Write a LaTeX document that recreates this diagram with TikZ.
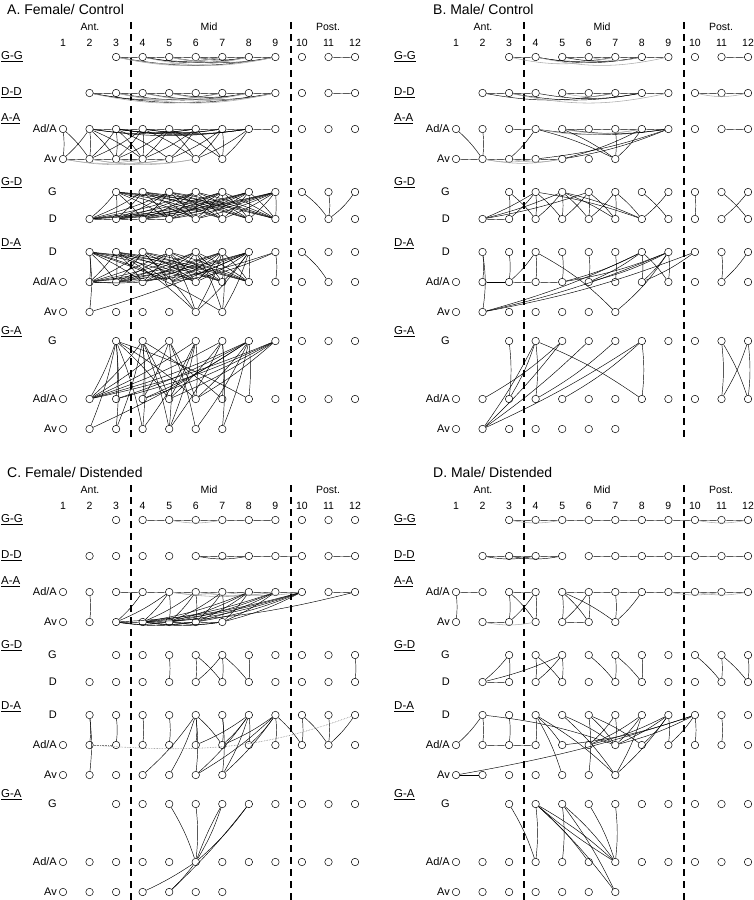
\documentclass[tikz,border=0pt]{standalone}
\usepackage{fontspec}
\setmainfont{Liberation Sans}
\newcommand{\ada}{Ad/A}
\tikzset{
  knoten/.style={circle, draw, fill=white, inner sep=0pt, minimum size=7.5pt, line width=0.5pt},
  kante/.style={line width=0.45pt},
  grau/.style={line width=0.55pt, gray!65},
  punkt/.style={line width=0.6pt, gray, densely dotted},
  trenn/.style={line width=1.3pt, dash pattern=on 7pt off 5pt},
  kopf/.style={font=\fontsize{10.5}{12}\selectfont, inner sep=0pt},
  gruppe/.style={font=\fontsize{11.5}{13}\selectfont, inner sep=0pt},
  zeile/.style={font=\fontsize{11}{12}\selectfont, inner sep=0pt},
  titel/.style={font=\fontsize{14}{16}\selectfont, inner sep=0pt}
}
% Tafel: #1 Name, #2 x-Versatz, #3 y-Versatz, #4 Titel-x, #5 Titel
\newcommand{\tafel}[5]{%
\begin{scope}[shift={(#2,-#3)}]
  \node[titel, anchor=west] (#1titel) at (#4,-9) {#5};
  \node[kopf] (#1ant) at (90,-27) {Ant.};
  \node[kopf] (#1mid) at (209,-27) {Mid};
  \node[kopf] (#1post) at (328,-27) {Post.};
  %Segmentnummern
  \foreach \i in {1,...,12}
    \node[kopf] (#1n\i) at ({63+(\i-1)*26.55},-43) {\i};
  %Kreise
  \foreach \rw/\yy/\sa/\se in {gg/57/3/12, dd/93/2/12, aa/129/1/12, av/159/1/7,
      gdg/192/3/12, gdd/219/2/12, dad/252/2/12, daa/282/1/12, dav/312/1/7,
      gag/341/3/12, gaa/399/1/12, gav/429/1/7}
    \foreach \i in {\sa,...,\se}
      \node[knoten] (#1\rw\i) at ({63+(\i-1)*26.55},-\yy) {};
  %Beschriftung links
  \foreach \t/\yy in {G-G/57, D-D/93, A-A/119, G-D/183, D-A/244, G-A/332}
    \node[gruppe, anchor=west] (#1l\yy) at (1,-\yy) {\underline{\t}};
  \foreach \t/\yy in {\ada/129, Av/159, G/192, D/219, D/252, \ada/282, Av/312, G/341, \ada/399, Av/429}
    \node[zeile, anchor=east] (#1z\yy) at (57,-\yy) {\t};
  %Trennlinien
  \draw[trenn] (131,-22) -- (131,-440);
  \draw[trenn] (291,-22) -- (291,-440);
\end{scope}}

\begin{document}
\begin{tikzpicture}[x=1pt, y=1pt]
  \useasboundingbox (0,0) rectangle (753,-900);

  %A. Female/ Control
  \tafel{A}{0}{0}{7}{A. Female/ Control}
  \foreach \a/\b in {3/4,4/5,5/6,6/7,7/8,8/9,11/12} \draw[kante] (Agg\a) to[bend right=3] (Agg\b);
  \foreach \a/\b in {3/9,4/8,5/9,4/7,6/8} \draw[kante] (Agg\a) to[bend right=10] (Agg\b);
  \foreach \a/\b in {4/9,5/8,6/9,3/8,5/7,3/7} \draw[grau] (Agg\a) to[bend right=12] (Agg\b);
  \foreach \a/\b in {2/3,3/4,4/5,5/6,6/7,7/8,8/9,11/12} \draw[kante] (Add\a) to[bend right=3] (Add\b);
  \foreach \a/\b in {2/9,3/8,4/9,2/7,5/8} \draw[kante] (Add\a) to[bend right=10] (Add\b);
  \foreach \a/\b in {2/8,3/9,4/8,5/9,3/7} \draw[grau] (Add\a) to[bend right=12] (Add\b);
  \foreach \a/\b in {2/3,3/4,4/5,5/6,6/7,7/8,8/9} \draw[kante] (Aaa\a) to[bend right=3] (Aaa\b);
  \foreach \a/\b in {2/8,3/8,4/8,3/7,2/6,4/7,3/6} \draw[kante] (Aaa\a) to[bend right=8] (Aaa\b);
  \foreach \a/\b in {1/2,2/3,3/4,4/5} \draw[kante] (Aav\a) to[bend right=3] (Aav\b);
  \foreach \a/\b in {1/5,2/5,1/4,2/6,3/6} \draw[grau] (Aav\a) to[bend right=10] (Aav\b);
  \foreach \a/\b in {1/1,1/2,2/1,2/2,2/3,2/4,3/2,3/3,3/4,3/5,4/2,4/3,4/4,4/6,5/3,5/4,5/6,5/7,
      6/4,6/5,6/7,7/5,7/6,7/7,8/6,8/7}
    \draw[kante] (Aaa\a) to[bend left=6] (Aav\b);
  \foreach \a in {3,...,9} \foreach \b in {2,...,9}
    \draw[kante] (Agdg\a) to[bend left=5] (Agdd\b);
  \foreach \a/\b in {10/11,11/11,12/11} \draw[kante] (Agdg\a) to[bend left=8] (Agdd\b);
  \foreach \a/\b in {2/3,3/4,4/5} \draw[kante] (Agdd\a) to[bend right=3] (Agdd\b);
  \foreach \a in {2,...,8} \foreach \b in {2,...,8}
    \draw[kante] (Adad\a) to[bend left=5] (Adaa\b);
  \foreach \a/\b in {9/9,9/3,9/5,10/11} \draw[kante] (Adad\a) to[bend left=8] (Adaa\b);
  \foreach \a/\b in {2/2,2/7,3/6,4/6,5/6,6/7,7/6,7/7,8/6,8/7} \draw[kante] (Adad\a) to[bend left=6] (Adav\b);
  \draw[kante] (Adav2) to[bend right=4] (Adad8);
  \foreach \a/\b in {2/3,2/4} \draw[kante] (Adaa\a) to[bend right=3] (Adaa\b);
  \foreach \a/\b in {3/2,3/3,3/5,3/6,3/8,4/2,4/4,4/5,4/7,5/2,5/4,5/6,6/2,6/5,6/6,7/2,7/5,7/7,
      8/2,8/3,8/4,8/6,8/8,9/2,9/3,9/4,9/5,9/6}
    \draw[kante] (Agag\a) to[bend left=5] (Agaa\b);
  \foreach \a/\b in {3/2,3/3,3/4,4/3,4/4,4/5,5/5,5/6,6/4,6/5,7/5,7/7,8/6,8/7}
    \draw[kante] (Agag\a) to[bend left=5] (Agav\b);
  \draw[kante] (Agav2) to[bend right=4] (Agag8);

  %B. Male/ Control
  \tafel{B}{393}{0}{40}{B. Male/ Control}
  \foreach \a/\b in {3/4,5/6,6/7,7/8,8/9,11/12} \draw[kante] (Bgg\a) to[bend right=3] (Bgg\b);
  \foreach \a/\b in {4/7,4/8,5/8} \draw[kante] (Bgg\a) to[bend right=10] (Bgg\b);
  \foreach \a/\b in {3/7,6/8,4/9} \draw[grau] (Bgg\a) to[bend right=12] (Bgg\b);
  \foreach \a/\b in {2/3,3/4,5/6,6/7,7/8,8/9,10/11,11/12} \draw[kante] (Bdd\a) to[bend right=3] (Bdd\b);
  \foreach \a/\b in {2/7,3/8,4/8} \draw[kante] (Bdd\a) to[bend right=10] (Bdd\b);
  \foreach \a/\b in {3/9,5/7,10/12} \draw[grau] (Bdd\a) to[bend right=12] (Bdd\b);
  \foreach \a/\b in {3/4,5/6,6/7,7/8,8/9,11/12} \draw[kante] (Baa\a) to[bend right=3] (Baa\b);
  \foreach \a/\b in {4/9,5/9} \draw[kante] (Baa\a) to[bend right=8] (Baa\b);
  \foreach \a/\b in {5/8,4/8} \draw[grau] (Baa\a) to[bend right=10] (Baa\b);
  \foreach \a/\b in {1/2,2/3,3/4,4/5} \draw[kante] (Bav\a) to[bend right=3] (Bav\b);
  \foreach \a/\b in {2/4,2/5,3/5} \draw[grau] (Bav\a) to[bend right=10] (Bav\b);
  \foreach \a/\b in {1/2,2/2,4/3,4/7,5/7,7/7,8/7,9/4,9/5,8/5}
    \draw[kante] (Baa\a) to[bend left=6] (Bav\b);
  \foreach \a/\b in {3/3,3/4,4/3,4/4,4/5,4/8,5/4,5/5,5/6,5/7,5/8,6/5,6/6,6/7,7/6,7/7,7/8,8/9,9/8,
      10/10,11/12,12/11}
    \draw[kante] (Bgdg\a) to[bend left=5] (Bgdd\b);
  \foreach \b in {4,5,6} \draw[kante] (Bgdd2) to[bend right=4] (Bgdg\b);
  \draw[kante] (Bgdd2) to[bend right=3] (Bgdd3);
  \foreach \a/\b in {2/2,3/3,4/3,4/4,5/5,6/6,7/7,8/8,8/9,9/5,9/6,9/8,9/9,8/5,8/6,10/8,12/11,11/11}
    \draw[kante] (Bdad\a) to[bend left=6] (Bdaa\b);
  \foreach \a/\b in {2/2,4/7,9/7} \draw[kante] (Bdad\a) to[bend left=8] (Bdav\b);
  \foreach \b in {8,9,10} \draw[kante] (Bdav2) to[bend right=5] (Bdad\b);
  \draw[kante, line width=0.9pt] (Bdaa2) -- (Bdaa3);
  \foreach \a/\b in {3/4,4/5} \draw[kante] (Bdaa\a) to[bend right=3] (Bdaa\b);
  \foreach \a/\b in {3/3,4/3,4/4,4/8,5/2,7/4,8/8,8/5,11/11,11/12,12/11,12/12}
    \draw[kante] (Bgag\a) to[bend left=6] (Bgaa\b);
  \foreach \b in {4,5,6,8} \draw[kante] (Bgav2) to[bend right=4] (Bgag\b);

  %C. Female/ Distended
  \tafel{C}{0}{463}{7}{C. Female/ Distended}
  \foreach \a/\b in {4/5,5/6,6/7,7/8,8/9} \draw[kante] (Cgg\a) to[bend right=3] (Cgg\b);
  \draw[grau] (Cgg5) to[bend right=10] (Cgg7);
  \foreach \a/\b in {6/7,7/8,8/9,9/10,11/12} \draw[kante] (Cdd\a) to[bend right=3] (Cdd\b);
  \draw[kante] (Cdd6) to[bend right=10] (Cdd8);
  \foreach \a/\b in {3/4,4/5,5/6,6/7,7/8,8/9,9/10,11/12} \draw[kante] (Caa\a) to[bend right=3] (Caa\b);
  \foreach \a/\b in {5/7,6/9,5/9,7/10} \draw[grau] (Caa\a) to[bend right=8] (Caa\b);
  \foreach \a/\b in {3/4,4/5,5/6,6/7} \draw[kante] (Cav\a) to[bend right=3] (Cav\b);
  \foreach \a/\b in {3/6,4/6,4/7,3/5,5/7} \draw[kante] (Cav\a) to[bend right=8] (Cav\b);
  \foreach \a/\b in {2/2,4/3,5/3,5/4,5/5,6/4,6/5,6/6,7/5,7/6,7/7,8/4,8/5,8/6,8/7,9/4,9/5,9/6,9/7,
      10/3,10/4,10/5,10/6,10/7,12/4}
    \draw[kante] (Caa\a) to[bend left=6] (Cav\b);
  \foreach \a/\b in {5/5,6/6,6/7,7/6,7/7,7/8,8/8,12/12}
    \draw[kante] (Cgdg\a) to[bend left=5] (Cgdd\b);
  \foreach \a/\b in {2/2,3/3,4/4,5/5,6/6,6/7,7/7,8/6,8/7,8/8,9/7,9/8,9/9,9/10,10/10,10/11,11/11,12/11}
    \draw[kante] (Cdad\a) to[bend left=6] (Cdaa\b);
  \foreach \a/\b in {2/2,6/4,6/5,6/6,7/7,8/6,8/7,9/6,9/7} \draw[kante] (Cdad\a) to[bend left=6] (Cdav\b);
  \draw[punkt] (Cdaa2) -- (Cdaa3);
  \draw[punkt] (Cdaa2) to[out=-4, in=200] (Cdad12);
  \foreach \a/\b in {5/6,6/6,7/6,8/6} \draw[kante] (Cgag\a) to[bend left=6] (Cgaa\b);
  \draw[kante] (Cgag7) to[bend right=4] (Cgaa6);
  \draw[kante] (Cgag8) to[bend left=4] (Cgav5);
  \foreach \b in {4,5} \draw[kante] (Cgaa6) to[bend left=4] (Cgav\b);

  %D. Male/ Distended
  \tafel{D}{393}{463}{40}{D. Male/ Distended}
  \foreach \a/\b in {3/4,4/5,5/6,6/7,7/8,8/9,9/10,10/11,11/12} \draw[kante] (Dgg\a) to[bend right=3] (Dgg\b);
  \foreach \a/\b in {3/5,10/12} \draw[grau] (Dgg\a) to[bend right=10] (Dgg\b);
  \foreach \a/\b in {2/3,3/4,4/5,6/7,7/8,8/9,9/10,10/11,11/12} \draw[kante] (Ddd\a) to[bend right=3] (Ddd\b);
  \foreach \a/\b in {2/4,3/5} \draw[kante] (Ddd\a) to[bend right=10] (Ddd\b);
  \foreach \a/\b in {1/2,3/4,5/6,6/7,7/8,8/9,9/10,10/11,11/12} \draw[kante] (Daa\a) to[bend right=3] (Daa\b);
  \foreach \a/\b in {10/12,9/11} \draw[grau] (Daa\a) to[bend right=10] (Daa\b);
  \foreach \a/\b in {2/3,5/6} \draw[kante] (Dav\a) to[bend right=3] (Dav\b);
  \draw[grau] (Dav2) to[bend right=10] (Dav4);
  \foreach \a/\b in {1/1,3/3,3/4,4/3,4/4,5/5,5/6,5/7,6/5,6/6,7/7,8/7}
    \draw[kante] (Daa\a) to[bend left=6] (Dav\b);
  \foreach \a/\b in {3/2,3/3,4/4,4/5,5/2,5/4,5/5,6/7,7/7,7/8,8/8,10/11,11/11,11/12,12/12}
    \draw[kante] (Dgdg\a) to[bend left=5] (Dgdd\b);
  \draw[kante] (Dgdd2) to[bend right=3] (Dgdd3);
  \foreach \a/\b in {2/1,2/2,2/7,3/3,4/4,4/5,5/7,6/7,6/8,7/6,7/7,8/7,8/6,9/6,9/7,9/8,9/9,
      10/5,10/7,10/9,10/10,11/11}
    \draw[kante] (Ddad\a) to[bend left=6] (Ddaa\b);
  \foreach \a/\b in {4/5,4/7,5/7,6/6,8/7,9/7} \draw[kante] (Ddad\a) to[bend left=6] (Ddav\b);
  \draw[kante] (Ddav1) to[bend right=4] (Ddad10);
  \draw[kante] (Ddav1) -- (Ddav2);
  \foreach \a/\b in {2/3,3/4} \draw[kante] (Ddaa\a) to[bend right=3] (Ddaa\b);
  \foreach \a/\b in {3/4,4/4,4/6,4/7,5/5,5/7,6/7,7/7} \draw[kante] (Dgag\a) to[bend left=6] (Dgaa\b);
  \draw[kante] (Dgag4) to[bend right=4] (Dgaa7);
  \foreach \a in {4,5} \draw[kante] (Dgag\a) to[bend left=5] (Dgav7);
\end{tikzpicture}
\end{document}
